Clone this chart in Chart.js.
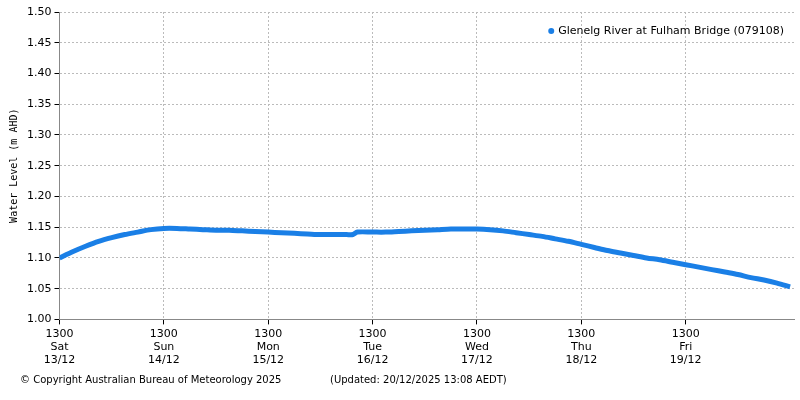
<!DOCTYPE html>
<html>
<head>
<meta charset="utf-8">
<script src="https://cdn.jsdelivr.net/npm/chart.js@4"></script>
<style>
  body { margin: 0; background: #fff; }
</style>
</head>
<body>
<canvas id="levelChart" width="800" height="400"></canvas>
<script>
// hours since Sat 13/12 13:00
const hours = [0, 3, 6, 9, 12, 15, 18, 21, 24, 27, 30, 33, 36, 39, 42, 45, 48, 51, 54, 57, 60, 63, 66, 67.5,
  68.5, 72, 75, 78, 81, 84, 87, 90, 93, 96, 99, 102, 105, 108, 111, 114, 117, 120, 123, 126, 129, 132,
  135, 138, 141, 144, 147, 150, 153, 156, 159, 162, 165, 168];
const levels = [1.100, 1.110, 1.119, 1.127, 1.133, 1.138, 1.142, 1.146, 1.148, 1.148, 1.147, 1.146,
  1.145, 1.145, 1.144, 1.143, 1.142, 1.141, 1.140, 1.139, 1.138, 1.138, 1.138, 1.138,
  1.142, 1.142, 1.142, 1.143, 1.144, 1.145, 1.146, 1.147, 1.147, 1.147, 1.146, 1.144, 1.141, 1.138,
  1.135, 1.131, 1.127, 1.122, 1.117, 1.112, 1.108, 1.104, 1.100, 1.097, 1.093, 1.089, 1.085, 1.081,
  1.077, 1.073, 1.068, 1.064, 1.059, 1.053];
const dayNames = ['Sat', 'Sun', 'Mon', 'Tue', 'Wed', 'Thu', 'Fri'];
const dayDates = ['13/12', '14/12', '15/12', '16/12', '17/12', '18/12', '19/12'];
const seriesName = 'Glenelg River at Fulham Bridge (079108)';
const lineColor = '#1a7fe6';

const points = hours.map((h, i) => ({ x: h, y: levels[i] }));

// footer text and the legend in the plot corner
const extras = {
  id: 'extras',
  afterDraw(chart) {
    const ctx = chart.ctx;
    const area = chart.chartArea;
    ctx.save();
    ctx.font = '10px "DejaVu Sans"';
    ctx.fillStyle = '#000';
    ctx.textBaseline = 'middle';
    ctx.fillText('\u00A9 Copyright Australian Bureau of Meteorology 2025', 20, 380);
    ctx.fillText('(Updated: 20/12/2025 13:08 AEDT)', 330, 380);

    ctx.font = '11px "DejaVu Sans"';
    const w = ctx.measureText(seriesName).width;
    const tx = area.right - 10 - w;
    ctx.fillText(seriesName, tx, 31);
    ctx.fillStyle = lineColor;
    ctx.beginPath();
    ctx.arc(tx - 7, 31, 3, 0, Math.PI * 2);
    ctx.fill();
    ctx.restore();
  }
};

new Chart(document.getElementById('levelChart').getContext('2d'), {
  type: 'line',
  data: {
    datasets: [{
      label: seriesName,
      data: points,
      borderColor: lineColor,
      backgroundColor: lineColor,
      borderWidth: 5,
      pointRadius: 0,
      tension: 0.3,
      fill: false
    }]
  },
  options: {
    responsive: false,
    animation: false,
    layout: { padding: { left: 4, right: 6, top: 12, bottom: 30 } },
    plugins: {
      legend: { display: false },
      tooltip: { enabled: false }
    },
    scales: {
      x: {
        type: 'linear',
        min: 0,
        max: 168.9,
        ticks: {
          stepSize: 24,
          maxRotation: 0,
          autoSkip: false,
          color: '#000',
          font: { family: 'DejaVu Sans', size: 11 },
          callback: v => {
            const d = Math.round(v / 24);
            if (v % 24 !== 0 || d > 6) return null;
            return ['1300', dayNames[d], dayDates[d]];
          }
        },
        grid: { color: '#bbb', tickColor: '#000', tickLength: 5 },
        border: { color: '#888', dash: [2, 2] }
      },
      y: {
        min: 1.0,
        max: 1.5,
        ticks: {
          stepSize: 0.05,
          autoSkip: false,
          color: '#000',
          font: { family: 'DejaVu Sans', size: 11 },
          callback: v => v.toFixed(2)
        },
        title: {
          display: true,
          text: 'Water Level (m AHD)',
          color: '#000',
          font: { family: 'DejaVu Sans Mono', size: 10 }
        },
        grid: { color: '#bbb', tickColor: '#000', tickLength: 5 },
        border: { color: '#888', dash: [2, 2] }
      }
    }
  },
  plugins: [extras]
});
</script>
</body>
</html>
